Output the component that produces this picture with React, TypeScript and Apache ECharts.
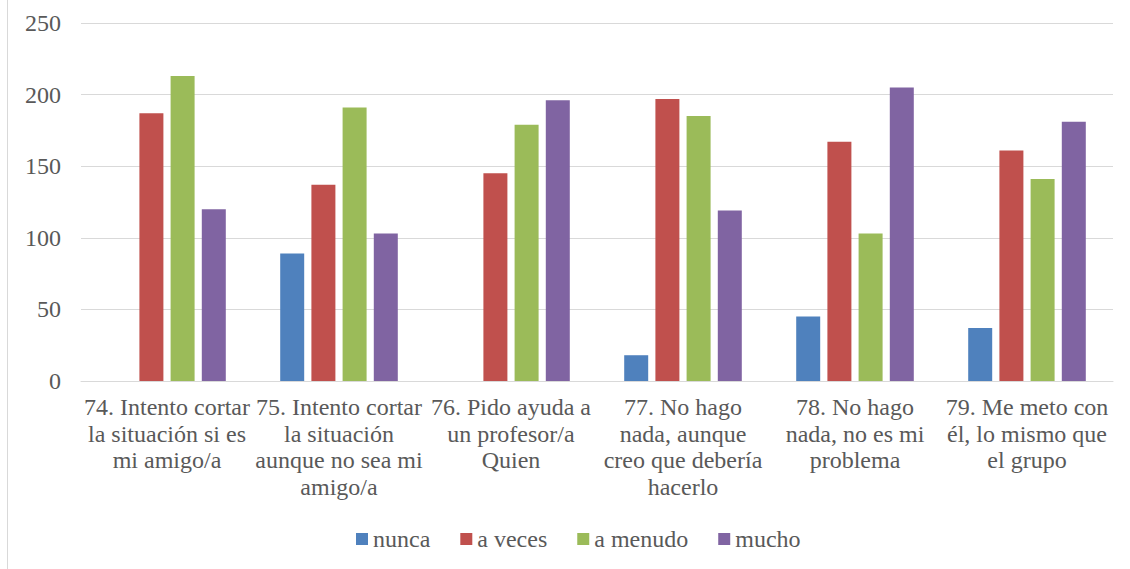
import React, { useEffect, useRef } from "react";
import * as echarts from "echarts";

const categories = [
  "74. Intento cortar\nla situación si es\nmi amigo/a",
  "75. Intento cortar\nla situación\naunque no sea mi\namigo/a",
  "76. Pido ayuda a\nun profesor/a\nQuien",
  "77. No hago\nnada, aunque\ncreo que debería\nhacerlo",
  "78. No hago\nnada, no es mi\nproblema",
  "79. Me meto con\nél, lo mismo que\nel grupo",
];

const nunca = [0, 89, 0, 18, 45, 37];
const aVeces = [187, 137, 145, 197, 167, 161];
const aMenudo = [213, 191, 179, 185, 103, 141];
const mucho = [120, 103, 196, 119, 205, 181];

const seriesNames = ["nunca", "a veces", "a menudo", "mucho"];
const seriesColors = ["#4F81BD", "#C0504D", "#9BBB59", "#8064A2"];
const yTicks = { min: 0, max: 250, interval: 50 };

const FONT = "Times New Roman, Liberation Serif, DejaVu Serif, serif";
const TEXT = "#595959";

export default function App() {
  const ref = useRef<HTMLDivElement>(null);
  useEffect(() => {
    if (!ref.current) return;
    const chart = echarts.init(ref.current, undefined, { renderer: "svg" });
    const data = [nunca, aVeces, aMenudo, mucho];
    chart.setOption({
      animation: false,
      backgroundColor: "#ffffff",
      textStyle: { fontFamily: FONT },
      grid: { left: 81, right: 17, top: 23, bottom: 188 },
      legend: {
        left: 351,
        top: 522,
        icon: "rect",
        itemWidth: 12,
        itemHeight: 12,
        itemGap: 30,
        textStyle: { fontFamily: FONT, fontSize: 24, color: TEXT, lineHeight: 24 },
        data: seriesNames,
      },
      graphic: [
        {
          type: "line",
          shape: { x1: 7.5, y1: 0, x2: 7.5, y2: 569 },
          style: { stroke: "#d9d9d9", lineWidth: 1 },
        },
      ],
      xAxis: {
        type: "category",
        data: categories,
        axisLine: { lineStyle: { color: "#d9d9d9", width: 1 } },
        axisTick: { show: false },
        axisLabel: {
          interval: 0,
          margin: 13,
          fontFamily: FONT,
          fontSize: 24,
          lineHeight: 26.5,
          color: TEXT,
          align: "center",
        },
      },
      yAxis: {
        type: "value",
        min: yTicks.min,
        max: yTicks.max,
        interval: yTicks.interval,
        axisLine: { show: false },
        axisTick: { show: false },
        splitLine: { lineStyle: { color: "#d9d9d9", width: 1 } },
        axisLabel: { fontFamily: FONT, fontSize: 24, color: TEXT, margin: 20 },
      },
      series: seriesNames.map((name, i) => ({
        name,
        type: "bar",
        data: data[i],
        barWidth: 24,
        barGap: "30%",
        itemStyle: { color: seriesColors[i] },
      })),
    });
    return () => chart.dispose();
  }, []);
  return (
    <div
      ref={ref}
      style={{ position: "absolute", left: 0, top: 0, width: 1130, height: 569 }}
    />
  );
}
